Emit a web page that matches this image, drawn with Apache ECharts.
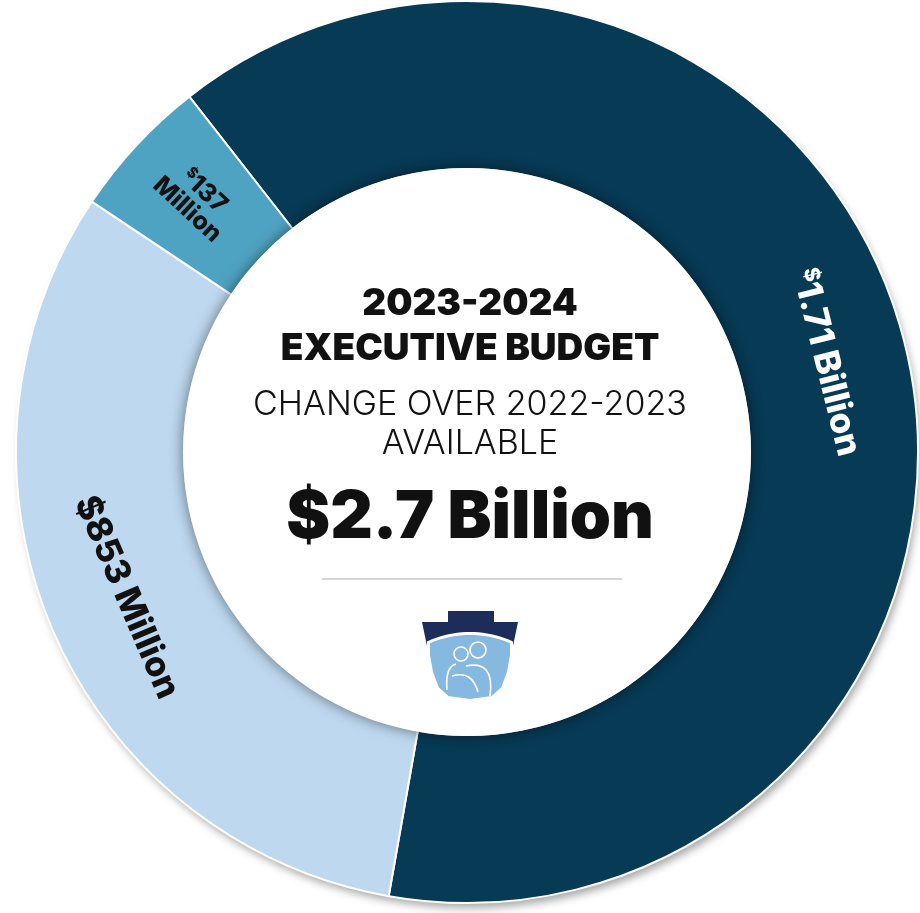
<!DOCTYPE html>
<html><head><meta charset="utf-8">
<script src="https://cdn.jsdelivr.net/npm/echarts@6/dist/echarts.min.js"></script>
<style>html,body{margin:0;padding:0;background:#fff}#c{width:920px;height:913px}</style>
</head><body><div id="c"></div>
<script>
// ---- data ----
const categories = ['$1.71 Billion', '$853 Million', '$137 Million'];
const values = [1710, 853, 137];
const titleLines = ['2023-2024', 'EXECUTIVE BUDGET'];
const subtitleLines = ['CHANGE OVER 2022-2023', 'AVAILABLE'];
const totalLabel = '$2.7 Billion';

// ---- layout / style ----
const CX = 467, CY = 452, R0 = 283, R1 = 451;
const START = 128;
const colors = ['#073a55', '#bdd8ef', '#4fa3c2'];
const textColors = ['#ffffff', '#111111', '#111111'];
const supDollar = [true, false, true];
const FONT = 'Inter, "Noto Sans", sans-serif';

const total = values.reduce((a, b) => a + b, 0);
const norm = a => ((a % 360) + 540) % 360 - 180;
let cum = 0;
const data = categories.map((name, i) => {
  const share = values[i] / total * 360;
  const mid = START - (cum + values[i] / 2) / total * 360;
  cum += values[i];
  const c = Math.cos(mid * Math.PI / 180);
  const small = share < 30;
  let rot;
  if (small) rot = c < 0 ? norm(mid - 180) : norm(mid);
  else rot = c >= 0 ? norm(mid - 90) : norm(mid - 270);
  const body = name.slice(1);
  let txt;
  if (small) {
    const parts = body.split(' ');
    txt = (supDollar[i] ? '{s|$}' : '{b|$}') + '{b|' + parts[0] + '}\n{b|' + parts.slice(1).join(' ') + '}';
  } else {
    txt = (supDollar[i] ? '{s|$}' : '{b|$}') + '{b|' + body + '}';
  }
  const fs = small ? 25 : 35;
  return {
    name, value: values[i],
    itemStyle: { color: colors[i] },
    label: {
      show: true, position: 'inside', rotate: rot, formatter: txt,
      rich: {
        b: { fontFamily: FONT, fontWeight: 800, fontSize: fs, color: textColors[i], lineHeight: fs },
        s: { fontFamily: FONT, fontWeight: 800, fontSize: Math.round(fs * 0.6), color: textColors[i], verticalAlign: 'top', lineHeight: fs }
      }
    }
  };
});

const txt = (text, y, size, weight) => ({
  type: 'text', z: 20, x: 470, y,
  style: { text, fill: '#111', fontFamily: FONT, fontSize: size, fontWeight: weight,
           textAlign: 'center', textVerticalAlign: 'middle', verticalAlign: 'middle' }
});

// logo geometry helpers (decoration)
function arcPts(cx, cy, r, x0, x1, n) {
  const pts = [];
  for (let k = 0; k <= n; k++) {
    const x = x0 + (x1 - x0) * k / n;
    pts.push([x, cy - Math.sqrt(r * r - (x - cx) * (x - cx))]);
  }
  return pts;
}
const bluePts = arcPts(470, 736.5, 102.5, 429, 511, 20)
  .concat([[511, 655], [508, 672], [502, 688], [492, 697], [470, 700], [448, 697], [438, 688], [432, 672], [429, 655]]);
const navyPts = [[448, 611], [494, 611], [494, 622], [518, 622], [513, 646]]
  .concat(arcPts(470, 734.5, 102.5, 513, 427, 20)).concat([[427, 646], [422, 622], [448, 622]]);

const chart = echarts.init(document.getElementById('c'), null, { renderer: 'canvas' });
chart.setOption({
  animation: false,
  backgroundColor: '#fff',
  series: [{
    type: 'pie', z: 2,
    center: [CX, CY], radius: [R0, R1],
    startAngle: START, clockwise: true,
    avoidLabelOverlap: false,
    itemStyle: { borderColor: '#ffffff', borderWidth: 2 },
    labelLine: { show: false },
    emphasis: { disabled: true },
    data
  }],
  graphic: [
    { type: 'circle', z: 1, shape: { cx: CX, cy: CY, r: R1 - 1 },
      style: { fill: '#fff', shadowBlur: 8, shadowOffsetX: 3, shadowOffsetY: 6, shadowColor: 'rgba(0,0,0,0.35)' } },
    { type: 'circle', z: 10, shape: { cx: CX, cy: CY, r: R0 + 1 },
      style: { fill: '#fff', shadowBlur: 14, shadowColor: 'rgba(0,0,0,0.5)' } },
    txt(titleLines[0], 304, 37, 900),
    txt(titleLines[1], 349, 37, 900),
    txt(subtitleLines[0], 405, 34, 300),
    txt(subtitleLines[1], 444, 34, 300),
    txt(totalLabel, 518, 66, 900),
    { type: 'line', z: 20, shape: { x1: 322, y1: 579, x2: 622, y2: 579 },
      style: { stroke: '#c9c9c9', lineWidth: 1.5 } },
    { type: 'polygon', z: 20, shape: { points: navyPts }, style: { fill: '#1c2d5a' } },
    { type: 'polygon', z: 21, shape: { points: bluePts }, style: { fill: '#86b9df', stroke: '#ffffff', lineWidth: 2 } },
    { type: 'circle', z: 22, shape: { cx: 461, cy: 654, r: 7 }, style: { fill: 'none', stroke: '#fff', lineWidth: 1.6 } },
    { type: 'circle', z: 22, shape: { cx: 478, cy: 650, r: 8 }, style: { fill: 'none', stroke: '#fff', lineWidth: 1.6 } },
    { type: 'bezierCurve', z: 22, shape: { x1: 447, y1: 690, cpx1: 445, cpy1: 667, x2: 456, y2: 664 }, style: { fill: 'none', stroke: '#fff', lineWidth: 1.6 } },
    { type: 'bezierCurve', z: 22, shape: { x1: 466, y1: 666, cpx1: 495, cpy1: 660, x2: 490, y2: 696 }, style: { fill: 'none', stroke: '#fff', lineWidth: 1.6 } },
    { type: 'bezierCurve', z: 22, shape: { x1: 452, y1: 676, cpx1: 472, cpy1: 670, x2: 478, y2: 692 }, style: { fill: 'none', stroke: '#fff', lineWidth: 1.6 } }
  ]
});
</script></body></html>
